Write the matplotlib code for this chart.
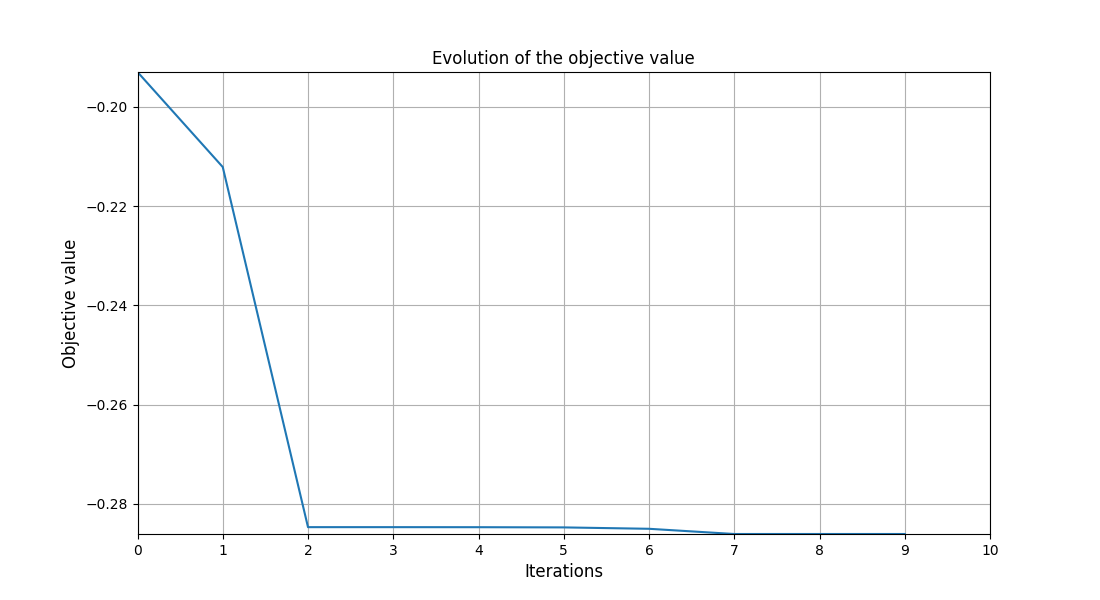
import matplotlib
matplotlib.use("Agg")
from matplotlib import pyplot as plt

iterations = [0, 1, 2, 3, 4, 5, 6, 7, 8, 9]
objective = [-0.19295, -0.2121, -0.28467, -0.28467, -0.28468, -0.28472,
             -0.2850, -0.28605, -0.28605, -0.28605]
x_ticks = list(range(0, 11))

fig, ax = plt.subplots(figsize=(11, 6), dpi=100)
ax.plot(iterations, objective)
ax.set_xlim(0, 10)
ax.set_xticks(x_ticks)
ax.set_ylim(min(objective), max(objective))
ax.set_title("Evolution of the objective value")
ax.set_xlabel("Iterations", fontsize=12)
ax.set_ylabel("Objective value", fontsize=12)
ax.grid(True)
fig.savefig("out.png")
